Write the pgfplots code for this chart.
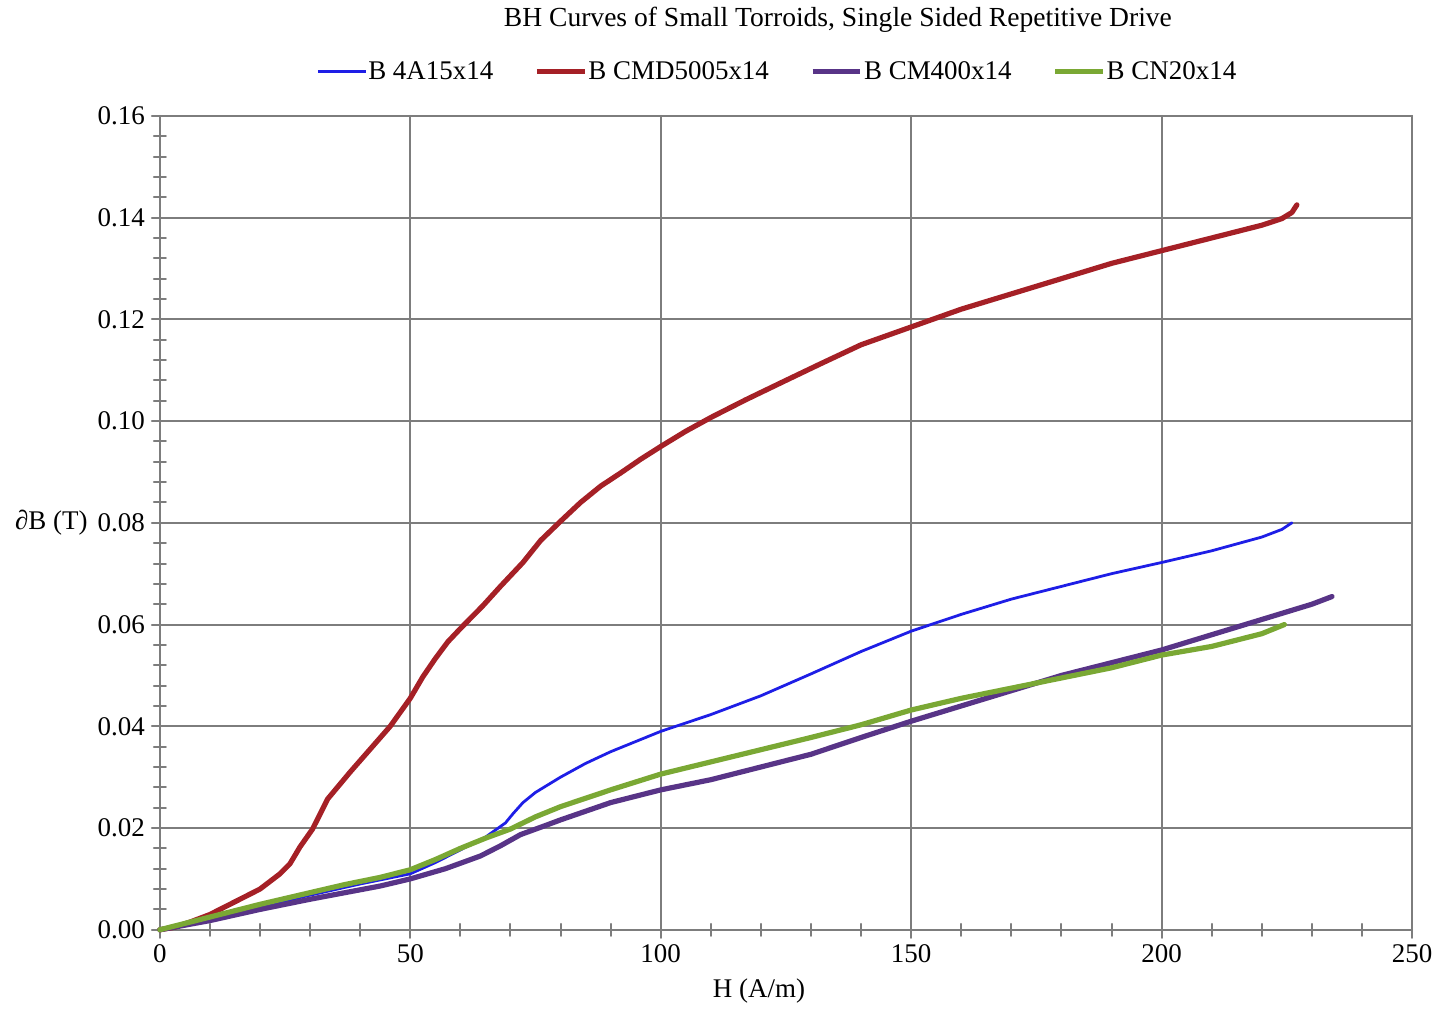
\documentclass[border=0pt]{standalone}
\usepackage{pgfplots}
\pgfplotsset{compat=1.18}
\usepackage{fontspec}
\setmainfont{Liberation Serif}

\definecolor{cblue}{RGB}{30,30,230}
\definecolor{cred}{RGB}{165,32,38}
\definecolor{cpurple}{RGB}{88,52,135}
\definecolor{cgreen}{RGB}{122,168,52}
\definecolor{cgrid}{RGB}{125,125,125}

\begin{document}
\begin{tikzpicture}
\begin{axis}[
    scale only axis,
    width=627pt, height=407.5pt,
    xmin=0, xmax=250, ymin=0, ymax=0.16,
    xtick={0,50,100,150,200,250},
    ytick={0,0.02,0.04,0.06,0.08,0.10,0.12,0.14,0.16},
    minor x tick num=4, minor y tick num=4,
    grid=major,
    major grid style={cgrid, line width=1pt},
    axis line style={cgrid, line width=1.2pt},
    tick style={cgrid, line width=1pt},
    tick align=center,
    major tick length=8pt, minor tick length=6pt,
    xtick pos=bottom, ytick pos=left,
    ticklabel style={font=\fontsize{13.5}{16}\selectfont},
    y tick label style={/pgf/number format/.cd, fixed, fixed zerofill, precision=2, /tikz/.cd},
    /pgf/number format/assume math mode=true,
    clip=false,
    legend columns=4,
    legend cell align=left,
    legend style={at={(0.4928,1.054)}, anchor=center, draw=none, fill=none,
        font=\fontsize{13.5}{16}\selectfont, inner sep=0pt,
        /tikz/every even column/.append style={column sep=20pt},
        nodes={inner xsep=0.5pt}},
    legend image code/.code={\draw[#1] (0pt,0pt) -- (24pt,0pt);},
    line join=round, line cap=round,
]
\addplot[cblue, line width=1.4pt] coordinates {
(0,0) (10,0.002) (20,0.0045) (30,0.0068) (40,0.009) (50,0.011) (55,0.0132)
(60,0.0157) (65,0.0182) (67,0.0196) (69,0.021) (70.5,0.0228) (72.5,0.025)
(75,0.027) (80,0.030) (85,0.0327) (90,0.035) (95,0.037) (100,0.039)
(110,0.0423) (120,0.046) (130,0.0503) (140,0.0547) (150,0.0587) (160,0.062)
(170,0.065) (180,0.0675) (190,0.070) (200,0.0722) (210,0.0745) (220,0.0772)
(224,0.0787) (226,0.080)
};
\addlegendentry{B 4A15x14}
\addplot[cred, line width=2.6pt] coordinates {
(0,0) (3,0.0005) (6,0.0015) (10,0.003) (15,0.0055) (20,0.008) (24,0.011)
(26,0.013) (28,0.0163) (30.5,0.0198) (33.5,0.0257) (38,0.031) (42,0.0355)
(46,0.040) (50,0.0455) (52.5,0.0497) (55,0.0533) (57.5,0.0566) (60,0.0592)
(64.5,0.0637) (68,0.0675) (72.5,0.0722) (76,0.0765) (80,0.0803) (84,0.084)
(88,0.0872) (92,0.0898) (96,0.0925) (100,0.0950) (105,0.098) (110,0.1007)
(117,0.1042) (125,0.108) (132,0.1113) (140,0.115) (150,0.1185)
(160,0.122) (170,0.125) (180,0.128) (190,0.131) (200,0.1335) (210,0.136)
(220,0.1385) (224,0.1398) (226,0.141) (227,0.1425)
};
\addlegendentry{B CMD5005x14}
\addplot[cpurple, line width=2.6pt] coordinates {
(0,0) (10,0.0018) (20,0.004) (30,0.006) (37,0.0073) (44,0.0086) (50,0.010)
(57,0.012) (64,0.0145) (68,0.0165) (72,0.0187) (77,0.0205) (80,0.0216)
(90,0.025) (100,0.0275) (110,0.0295) (120,0.032) (130,0.0345) (140,0.0378)
(150,0.041) (160,0.044) (170,0.047) (180,0.050) (190,0.0525) (200,0.055)
(210,0.058) (220,0.061) (230,0.064) (234,0.0655)
};
\addlegendentry{B CM400x14}
\addplot[cgreen, line width=2.6pt] coordinates {
(0,0) (10,0.0025) (20,0.005) (30,0.0073) (37,0.0089) (44,0.0103)
(50,0.0118) (55,0.0138) (60,0.016) (65,0.018) (70,0.0198) (75,0.0222)
(80,0.0242) (90,0.0275) (100,0.0306) (110,0.033) (120,0.0354) (130,0.0378)
(140,0.0403) (150,0.0432) (160,0.0455) (170,0.0475) (180,0.0495)
(190,0.0515) (200,0.054) (210,0.0557) (220,0.0582) (224.5,0.060)
};
\addlegendentry{B CN20x14}
% title and axis labels
\node[font=\fontsize{13.8}{16}\selectfont] at ([yshift=48pt]rel axis cs:0.5415,1) {BH Curves of Small Torroids, Single Sided Repetitive Drive};
\node[font=\fontsize{13.5}{16}\selectfont, anchor=east, inner sep=0pt] at ([xshift=-36pt]rel axis cs:0,0.5) {∂B (T)};
\node[font=\fontsize{13.5}{16}\selectfont] at ([yshift=-30.5pt]rel axis cs:0.4785,0) {H (A/m)};
\coordinate (bbsw) at ([shift={(-80pt,-38.5pt)}]rel axis cs:0,0);
\coordinate (bbne) at ([shift={(12.5pt,58pt)}]rel axis cs:1,1);
\end{axis}
\path (bbsw) rectangle (bbne);
\end{tikzpicture}
\end{document}
